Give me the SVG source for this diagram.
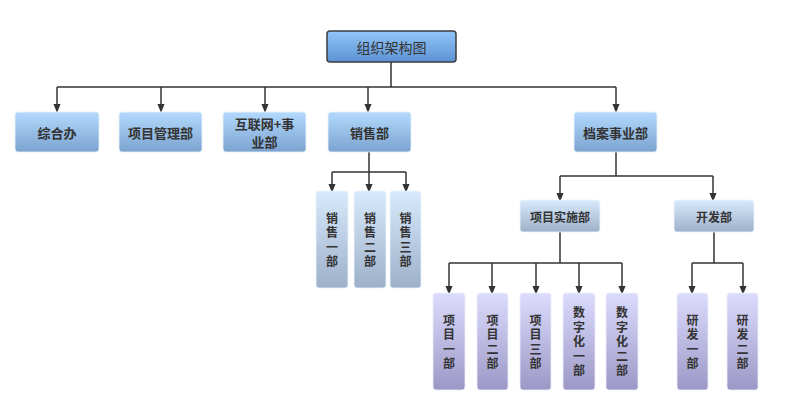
<svg xmlns="http://www.w3.org/2000/svg" width="785" height="419" viewBox="0 0 785 419">
<defs>
<linearGradient id="gRoot" x1="0" y1="0" x2="0" y2="1"><stop offset="0" stop-color="#92c6f8"/><stop offset="1" stop-color="#5b92d4"/></linearGradient>
<linearGradient id="gL1" x1="0" y1="0" x2="0" y2="1"><stop offset="0" stop-color="#b3dafd"/><stop offset="1" stop-color="#7ba3cf"/></linearGradient>
<linearGradient id="gL2" x1="0" y1="0" x2="0" y2="1"><stop offset="0" stop-color="#d8eafc"/><stop offset="1" stop-color="#9cb0c9"/></linearGradient>
<linearGradient id="gP" x1="0" y1="0" x2="0" y2="1"><stop offset="0" stop-color="#dcdcfd"/><stop offset="1" stop-color="#9c98c6"/></linearGradient>
<marker id="arr" markerWidth="9" markerHeight="11" refX="9" refY="4.5" orient="auto" markerUnits="userSpaceOnUse" viewBox="0 0 11 9"><path d="M0,0 L11,4.5 L0,9 Z" fill="#333"/></marker>
</defs>
<style>
text{font-family:"Noto Sans CJK SC","Noto Sans",sans-serif;font-weight:bold;fill:#333;text-anchor:middle;dominant-baseline:central}
.t1{font-size:14px;font-weight:normal}
.t2{font-size:13px}
.t3{font-size:12px}
.v{font-size:12px;writing-mode:vertical-rl;letter-spacing:2.5px}
.root{fill:url(#gRoot);stroke:#3d3d3d;stroke-width:1.5}
.l1{fill:url(#gL1);stroke:#e8f2fc;stroke-width:0.8}
.l2{fill:url(#gL2);stroke:#eef4fb;stroke-width:0.8}
.p{fill:url(#gP);stroke:#eeeefc;stroke-width:0.8}
.c{fill:none;stroke:#333;stroke-width:1.5}
.a{fill:none;stroke:#333;stroke-width:1.5;marker-end:url(#arr)}
</style>
<g id="connectors">
<path class="c" d="M391,62 V87 M57,87 H616"/>
<path class="a" d="M57,87 V111"/>
<path class="a" d="M161,87 V111"/>
<path class="a" d="M265,87 V111"/>
<path class="a" d="M368,87 V111"/>
<path class="a" d="M616,87 V111"/>
<path class="c" d="M369,152 V172 M332,172 H406"/>
<path class="a" d="M332,172 V191"/>
<path class="a" d="M369,172 V191"/>
<path class="a" d="M406,172 V191"/>
<path class="c" d="M616,152 V176 M560,176 H713"/>
<path class="a" d="M560,176 V200"/>
<path class="a" d="M713,176 V200"/>
<path class="c" d="M560,232 V263 M449,263 H622"/>
<path class="a" d="M449,263 V293"/>
<path class="a" d="M492,263 V293"/>
<path class="a" d="M536,263 V293"/>
<path class="a" d="M579,263 V293"/>
<path class="a" d="M622,263 V293"/>
<path class="c" d="M714,232 V263 M692,263 H743"/>
<path class="a" d="M692,263 V293"/>
<path class="a" d="M743,263 V293"/>
</g>
<g id="root"><rect class="root" x="327" y="31" width="129" height="31" rx="3"/><text class="t1" x="391.5" y="46.5">组织架构图</text></g>
<g id="zonghe"><rect class="l1" x="15" y="112" width="84" height="40" rx="3"/><text class="t2" x="57" y="132">综合办</text></g>
<g id="xmgl"><rect class="l1" x="119" y="112" width="83" height="40" rx="3"/><text class="t2" x="160.5" y="132">项目管理部</text></g>
<g id="hlw"><rect class="l1" x="223" y="112" width="83" height="40" rx="3"/><text class="t2" x="264.5" y="123.5">互联网+事<tspan x="264.5" dy="17.5">业部</tspan></text></g>
<g id="xiaoshou"><rect class="l1" x="328" y="112" width="83" height="40" rx="3"/><text class="t2" x="369.5" y="132">销售部</text></g>
<g id="dangan"><rect class="l1" x="574" y="112" width="83" height="40" rx="3"/><text class="t2" x="615.5" y="132">档案事业部</text></g>
<g id="xs1"><rect class="l2" x="316" y="191" width="32" height="97" rx="3"/><text class="v" x="332" y="241">销售一部</text></g>
<g id="xs2"><rect class="l2" x="354" y="191" width="32" height="97" rx="3"/><text class="v" x="370" y="241">销售二部</text></g>
<g id="xs3"><rect class="l2" x="390" y="191" width="31" height="97" rx="3"/><text class="v" x="405.5" y="241">销售三部</text></g>
<g id="xmss"><rect class="l2" x="520" y="200" width="80" height="32" rx="3"/><text class="t3" x="560" y="216">项目实施部</text></g>
<g id="kaifa"><rect class="l2" x="674" y="200" width="80" height="32" rx="3"/><text class="t3" x="714" y="216">开发部</text></g>
<g id="xm1"><rect class="p" x="433" y="293" width="32" height="97" rx="3"/><text class="v" x="449" y="343">项目一部</text></g>
<g id="xm2"><rect class="p" x="477" y="293" width="31" height="97" rx="3"/><text class="v" x="492.5" y="343">项目二部</text></g>
<g id="xm3"><rect class="p" x="520" y="293" width="31" height="97" rx="3"/><text class="v" x="535.5" y="343">项目三部</text></g>
<g id="szh1"><rect class="p" x="563" y="293" width="32" height="97" rx="3"/><text class="v" x="579" y="343">数字化一部</text></g>
<g id="szh2"><rect class="p" x="606" y="293" width="32" height="97" rx="3"/><text class="v" x="622" y="343">数字化二部</text></g>
<g id="yf1"><rect class="p" x="677" y="293" width="31" height="97" rx="3"/><text class="v" x="692.5" y="343">研发一部</text></g>
<g id="yf2"><rect class="p" x="727" y="293" width="31" height="97" rx="3"/><text class="v" x="742.5" y="343">研发二部</text></g>
</svg>
